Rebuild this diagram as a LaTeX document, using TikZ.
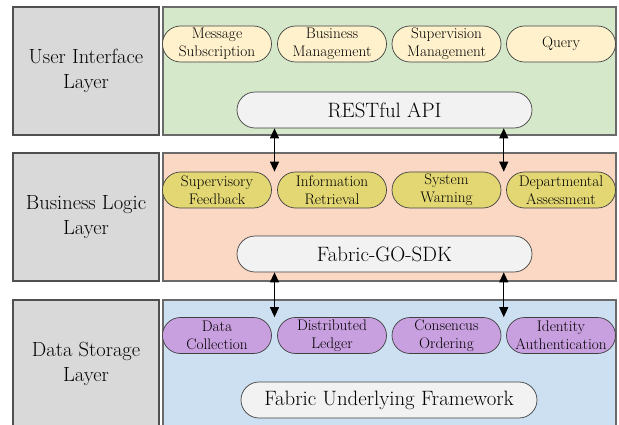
\documentclass[tikz,border=0pt]{standalone}
\usetikzlibrary{shapes.misc,arrows.meta,calc}
\definecolor{graybox}{HTML}{D9D9D9}
\definecolor{greenbg}{HTML}{D5E8CA}
\definecolor{peachbg}{HTML}{FBD8C4}
\definecolor{bluebg}{HTML}{CDE0F1}
\definecolor{pillA}{HTML}{FFF1CC}
\definecolor{pillB}{HTML}{E3D774}
\definecolor{pillC}{HTML}{C9A0DF}
\definecolor{pillBig}{HTML}{F2F2F2}
\definecolor{edgegray}{HTML}{505050}
\tikzset{
  layerlabel/.style={draw=edgegray, line width=1.3pt, fill=graybox, minimum width=146pt, minimum height=128pt, inner sep=0pt, align=center, font=\fontsize{20.5}{25}\selectfont},
  layerbg/.style={draw=edgegray!85, line width=1.3pt, minimum width=453pt, minimum height=128pt, inner sep=0pt},
  pill/.style={rounded rectangle, draw=black!75, line width=0.7pt, minimum width=110pt, minimum height=36pt, inner sep=0.5pt, align=center, font=\fontsize{15.3}{18}\selectfont},
  bigpill/.style={rounded rectangle, draw=black!75, line width=0.7pt, fill=pillBig, minimum height=36pt, inner sep=0pt, font=\fontsize{20.8}{24}\selectfont},
  conn/.style={{Triangle[width=9pt,length=10pt]}-{Triangle[width=9pt,length=10pt]}, line width=1.1pt}
}
\begin{document}
\begin{tikzpicture}[x=1pt,y=-1pt]
\clip (0,0) rectangle (619,425);
\fill[white] (0,0) rectangle (619,425);
% layer 1
\node[layerlabel] (l1) at (86,71) {User Interface\\Layer};
\node[layerbg, fill=greenbg] (b1) at (389.5,71) {};
% layer 2
\node[layerlabel] (l2) at (86,217) {Business Logic\\Layer};
\node[layerbg, fill=peachbg] (b2) at (389.5,217) {};
% layer 3
\node[layerlabel] (l3) at (86,364) {Data Storage\\Layer};
\node[layerbg, fill=bluebg] (b3) at (389.5,364) {};
% row 1 pills
\node[pill, fill=pillA] (ms) at (217,44) {Message\\Subscription};
\node[pill, fill=pillA] (bm) at (332,44) {Business\\Management};
\node[pill, fill=pillA] (sm) at (446.5,44) {Supervision\\Management};
\node[pill, fill=pillA] (q) at (561,44) {Query};
\node[bigpill, minimum width=295pt] (api) at (384.5,110) {RESTful API};
% row 2 pills
\node[pill, fill=pillB] (sf) at (217,190) {Supervisory\\Feedback};
\node[pill, fill=pillB] (ir) at (332,190) {Information\\Retrieval};
\node[pill, fill=pillB] (sw) at (446.5,190) {System\\Warning};
\node[pill, fill=pillB] (da) at (561,190) {Departmental\\Assessment};
\node[bigpill, minimum width=295pt] (sdk) at (384.5,254) {Fabric-GO-SDK};
% row 3 pills
\node[pill, fill=pillC] (dc) at (217,335.5) {Data\\Collection};
\node[pill, fill=pillC] (dl) at (332,335.5) {Distributed\\Ledger};
\node[pill, fill=pillC] (co) at (446.5,335.5) {Consencus\\Ordering};
\node[pill, fill=pillC] (ia) at (561,335.5) {Identity\\Authentication};
\node[bigpill, minimum width=296pt] (fuf) at (389,400) {Fabric Underlying Framework};
% connectors
\coordinate (g1) at ($(sf.north east)!0.5!(ir.north west)$);
\coordinate (g2) at ($(sw.north east)!0.5!(da.north west)$);
\coordinate (g3) at ($(dc.north east)!0.5!(dl.north west)$);
\coordinate (g4) at ($(co.north east)!0.5!(ia.north west)$);
\draw[conn] (g1 |- api.south) -- (g1);
\draw[conn] (g2 |- api.south) -- (g2);
\draw[conn] (g3 |- sdk.south) -- (g3);
\draw[conn] (g4 |- sdk.south) -- (g4);
\end{tikzpicture}
\end{document}
